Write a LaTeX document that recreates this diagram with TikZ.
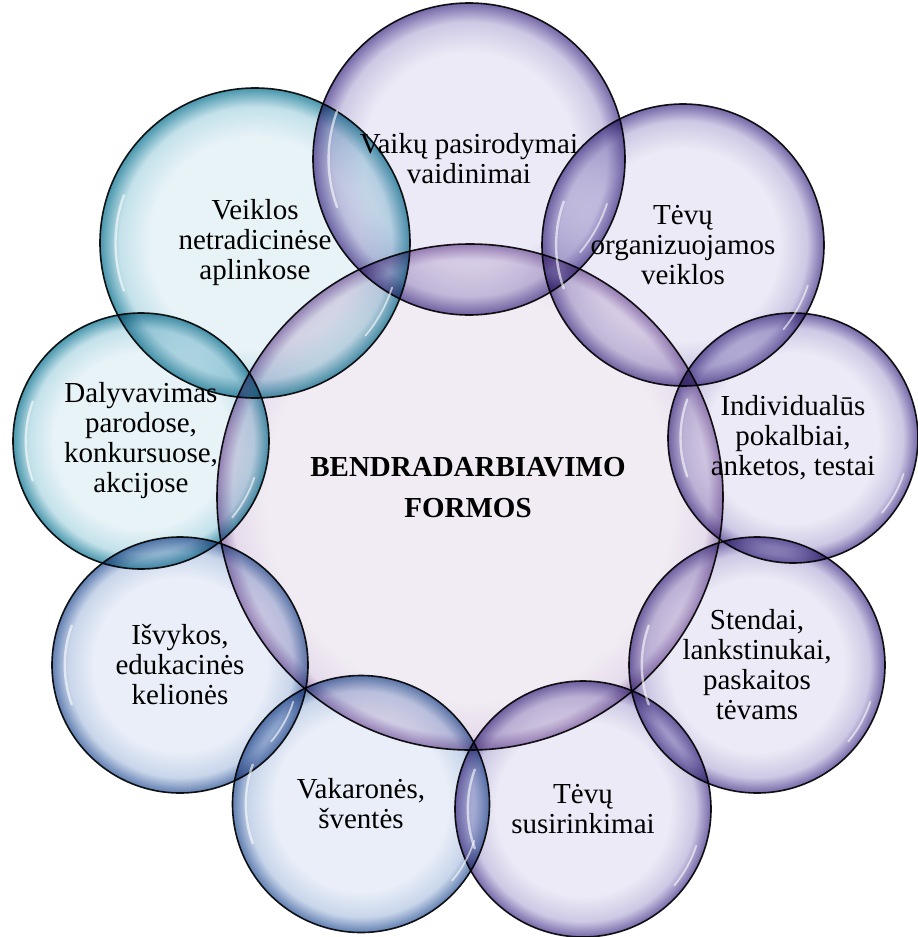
\documentclass[tikz,border=0pt]{standalone}
\usepackage{fontspec}
\setmainfont{Liberation Serif}
\definecolor{pC}{RGB}{236,234,246}
\definecolor{pM}{RGB}{205,200,228}
\definecolor{pR}{RGB}{118,104,168}
\definecolor{tC}{RGB}{232,243,247}
\definecolor{tM}{RGB}{195,225,234}
\definecolor{tR}{RGB}{72,150,172}
\definecolor{bC}{RGB}{233,238,248}
\definecolor{bM}{RGB}{200,213,234}
\definecolor{bR}{RGB}{96,126,176}
\definecolor{hC}{RGB}{241,236,243}
\definecolor{hM}{RGB}{230,220,236}
\definecolor{hR}{RGB}{160,135,185}
\pgfdeclareradialshading{bubP}{\pgfpoint{0bp}{0bp}}{color(0bp)=(pC); color(17bp)=(pC); color(22bp)=(pM); color(25bp)=(pR); color(50bp)=(pR)}
\pgfdeclareradialshading{bubT}{\pgfpoint{0bp}{0bp}}{color(0bp)=(tC); color(17bp)=(tC); color(22bp)=(tM); color(25bp)=(tR); color(50bp)=(tR)}
\pgfdeclareradialshading{bubB}{\pgfpoint{0bp}{0bp}}{color(0bp)=(bC); color(17bp)=(bC); color(22bp)=(bM); color(25bp)=(bR); color(50bp)=(bR)}
\pgfdeclareradialshading{bubH}{\pgfpoint{0bp}{0bp}}{color(0bp)=(hC); color(20bp)=(hC); color(23.5bp)=(hM); color(25bp)=(hR); color(50bp)=(hR)}
\begin{document}
\begin{tikzpicture}[x=1pt,y=-1pt,
  bub/.style={circle, inner sep=0pt, draw=black!90, line width=1.6pt, align=center,
    font=\fontsize{29}{30}\selectfont, text=black},
  purp/.style={bub, shade, shading=bubP},
  teal/.style={bub, shade, shading=bubT},
  blu/.style={bub, shade, shading=bubB},
  hubstyle/.style={bub, shade, shading=bubH},
  hl/.style={white, line width=2.4pt, line cap=round, opacity=0.6},
  titlestyle/.style={align=center, font=\bfseries\fontsize{29}{41}\selectfont, inner sep=0pt}]
\useasboundingbox (0,0) rectangle (918,937);
\begin{scope}[blend mode=multiply]
\node[hubstyle, minimum size=506pt] (hub) at (470,497) {};
\node[purp, minimum size=312pt] (vaikai) at (469,159) {Vaikų pasirodymai\\vaidinimai};
\node[purp, minimum size=282pt] (tevuorg) at (683,245) {Tėvų\\organizuojamos\\veiklos};
\node[purp, minimum size=250pt] (indiv) at (793,438) {Individualūs\\pokalbiai,\\anketos, testai};
\node[purp, minimum size=256pt] (stendai) at (757,665) {Stendai,\\lankstinukai,\\paskaitos\\tėvams};
\node[purp, minimum size=256pt] (susir) at (583,809) {Tėvų\\susirinkimai};
\node[blu, minimum size=257pt] (vakar) at (361,804) {Vakaronės,\\šventės};
\node[blu, minimum size=256pt] (isvyk) at (180,665) {Išvykos,\\edukacinės\\kelionės};
\node[teal, minimum size=256pt] (dalyv) at (141,441) {Dalyvavimas\\parodose,\\konkursuose,\\akcijose};
\node[teal, minimum size=310pt] (veikl) at (255,243) {Veiklos\\netradicinėse\\aplinkose};
\end{scope}
\foreach \n/\r in {vaikai/156, tevuorg/141, indiv/125, stendai/128, susir/128, vakar/128, isvyk/128, dalyv/128, veikl/155}{
  \draw[hl] ([shift={(160:{0.9*\r})}]\n.center) arc[start angle=160, end angle=200, radius={0.9*\r}];
  \draw[hl, line width=1.8pt] ([shift={(18:{0.93*\r})}]\n.center) arc[start angle=18, end angle=40, radius={0.93*\r}];
}
\node[titlestyle] (title) at (468,488) {BENDRADARBIAVIMO\\FORMOS};
\end{tikzpicture}
\end{document}
